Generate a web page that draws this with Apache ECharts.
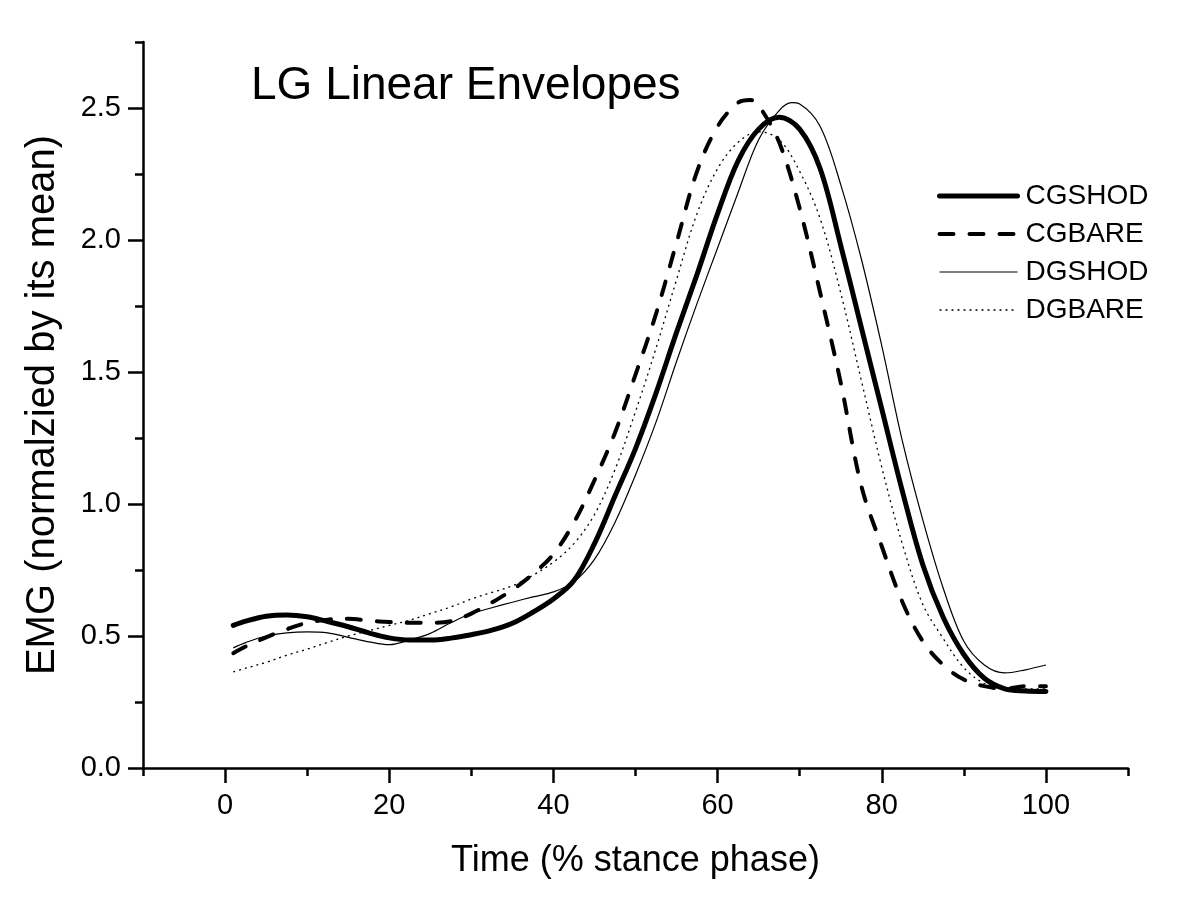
<!DOCTYPE html>
<html>
<head>
<meta charset="utf-8">
<script src="https://cdn.jsdelivr.net/npm/echarts@6/dist/echarts.min.js"></script>
<style>
html,body{margin:0;padding:0;background:#fff;}
#chart{width:1200px;height:921px;}
</style>
</head>
<body>
<div id="chart"></div>
<script>
// ---- data ----
const titleText = 'LG Linear Envelopes';
const xAxisTitle = 'Time (% stance phase)';
const yAxisTitle = 'EMG (normalzied by its mean)';
const seriesNames = ['CGSHOD', 'CGBARE', 'DGSHOD', 'DGBARE'];

const xMajorTicks = [0, 20, 40, 60, 80, 100];
const xMinorTicks = [-10, 10, 30, 50, 70, 90, 110];
const yMajorTicks = [0, 0.5, 1.0, 1.5, 2.0, 2.5];
const yMinorTicks = [0.25, 0.75, 1.25, 1.75, 2.25, 2.75];

const cgshod = [[1,0.54],[2.5,0.556],[5,0.575],[7.5,0.58],[10,0.573],[12.5,0.555],[15,0.535],[17.5,0.512],[20,0.493],[22.5,0.485],[25,0.485],[27.5,0.492],[30,0.505],[32.5,0.522],[35,0.548],[37.5,0.59],[40,0.64],[42.5,0.71],[45,0.85],[47.5,1.03],[50,1.21],[52.5,1.42],[55,1.65],[57.5,1.87],[60,2.10],[62.5,2.30],[65,2.42],[67.5,2.465],[70,2.42],[72.5,2.27],[75,1.98],[77.5,1.67],[80,1.36],[82.5,1.05],[85,0.77],[87.5,0.57],[90,0.43],[92.5,0.34],[95,0.30],[97.5,0.292],[100,0.29]];

const cgbare = [[1,0.435],[2.5,0.46],[5,0.495],[7.5,0.525],[10,0.55],[12.5,0.562],[15,0.565],[17.5,0.558],[20,0.553],[22.5,0.55],[25,0.55],[27.5,0.556],[30,0.585],[32.5,0.627],[35,0.675],[37.5,0.735],[40,0.81],[42.5,0.93],[45,1.09],[47.5,1.27],[50,1.49],[52.5,1.72],[55,1.99],[57.5,2.26],[60,2.43],[62.5,2.52],[64,2.53],[65,2.51],[67.5,2.37],[70,2.12],[72.5,1.80],[75,1.46],[77.5,1.07],[80,0.84],[82.5,0.63],[85,0.48],[87.5,0.39],[90,0.335],[92.5,0.31],[95,0.30],[97.5,0.31],[100,0.31]];

const dgshod = [[1,0.455],[2.5,0.475],[5,0.50],[7.5,0.512],[10,0.516],[12.5,0.512],[15,0.495],[17.5,0.478],[20,0.467],[22.5,0.485],[25,0.51],[27.5,0.55],[30,0.585],[32.5,0.607],[35,0.628],[37.5,0.648],[40,0.667],[42.5,0.705],[45,0.79],[47.5,0.93],[50,1.11],[52.5,1.31],[55,1.54],[57.5,1.76],[60,1.97],[62.5,2.18],[65,2.38],[67.5,2.49],[69,2.52],[70,2.515],[72.5,2.43],[75,2.21],[77.5,1.93],[80,1.60],[82.5,1.24],[85,0.94],[87.5,0.68],[90,0.48],[92.5,0.39],[95,0.36],[97.5,0.372],[100,0.39]];

const dgbare = [[1,0.364],[2.5,0.378],[5,0.40],[7.5,0.427],[10,0.45],[12.5,0.476],[15,0.50],[17.5,0.52],[20,0.54],[22.5,0.56],[25,0.585],[27.5,0.61],[30,0.64],[32.5,0.665],[35,0.69],[37.5,0.73],[40,0.78],[42.5,0.85],[45,0.96],[47.5,1.13],[50,1.35],[52.5,1.59],[55,1.85],[57.5,2.10],[60,2.27],[62.5,2.37],[65,2.41],[67.5,2.38],[70,2.26],[72.5,2.08],[75,1.80],[77.5,1.47],[80,1.14],[82.5,0.85],[85,0.62],[87.5,0.49],[90,0.38],[92.5,0.32],[95,0.30],[97.5,0.30],[100,0.30]];

// ---- chart ----
const FONT = 'Liberation Sans, Arial, sans-serif';
const chart = echarts.init(document.getElementById('chart'), null, {renderer: 'canvas'});

const axisLineStyle = {color: '#000', width: 2.5};
const styles = [
  {color: '#000', width: 5, type: 'solid', cap: 'round'},
  {color: '#000', width: 4, type: [14, 16], cap: 'round'},
  {color: '#000', width: 1.2, type: 'solid'},
  {color: '#000', width: 1.3, type: [2, 4]}
];
const seriesData = [cgshod, cgbare, dgshod, dgbare];

const option = {
  backgroundColor: '#fff',
  animation: false,
  title: {
    text: titleText,
    left: 251, top: 63, padding: 0,
    textStyle: {fontFamily: FONT, fontSize: 46, fontWeight: 'normal', color: '#000'}
  },
  legend: {
    orient: 'vertical',
    left: 937, top: 182,
    itemWidth: 78, itemHeight: 14, itemGap: 10,
    padding: 0,
    itemStyle: {opacity: 0, borderWidth: 0},
    textStyle: {fontFamily: FONT, fontSize: 28, color: '#000', padding: [0,0,0,3]},
    data: seriesNames.map((n, i) => ({
      name: n,
      itemStyle: {opacity: 0, borderWidth: 0},
      lineStyle: {color: '#000', width: styles[i].width, type: styles[i].type, cap: styles[i].cap || 'butt'}
    }))
  },
  grid: {left: 143, right: 72, top: 42, bottom: 153},
  xAxis: [{
    type: 'value', min: -10, max: 110,
    name: xAxisTitle, nameLocation: 'middle', nameGap: 75,
    nameTextStyle: {fontFamily: FONT, fontSize: 36, color: '#000'},
    axisLine: {show: true, onZero: false, lineStyle: axisLineStyle},
    axisTick: {show: true, inside: false, length: 15, lineStyle: axisLineStyle, customValues: xMajorTicks},
    axisLabel: {show: true, margin: 23, fontFamily: FONT, fontSize: 29, color: '#000', customValues: xMajorTicks},
    splitLine: {show: false}
  }, {
    type: 'value', min: -10, max: 110, position: 'bottom',
    axisLine: {show: false, onZero: false},
    axisTick: {show: true, inside: false, length: 8, lineStyle: axisLineStyle, customValues: xMinorTicks},
    axisLabel: {show: false},
    splitLine: {show: false}
  }],
  yAxis: [{
    type: 'value', min: 0, max: 2.75,
    name: yAxisTitle, nameLocation: 'middle', nameGap: 80, nameRotate: 90,
    nameTextStyle: {fontFamily: FONT, fontSize: 40, color: '#000'},
    axisLine: {show: true, onZero: false, lineStyle: axisLineStyle},
    axisTick: {show: true, inside: false, length: 15, lineStyle: axisLineStyle, customValues: yMajorTicks},
    axisLabel: {show: true, margin: 22, fontFamily: FONT, fontSize: 29, color: '#000',
      customValues: yMajorTicks, formatter: v => v.toFixed(1)},
    splitLine: {show: false}
  }, {
    type: 'value', min: 0, max: 2.75, position: 'left',
    axisLine: {show: false, onZero: false},
    axisTick: {show: true, inside: false, length: 8, lineStyle: axisLineStyle, customValues: yMinorTicks},
    axisLabel: {show: false},
    splitLine: {show: false}
  }],
  series: seriesNames.map((n, i) => ({
    name: n, type: 'line', data: seriesData[i], smooth: 0.35, symbol: 'none',
    itemStyle: {color: '#000'},
    lineStyle: styles[i], z: 4 - i
  }))
};
chart.setOption(option);
</script>
</body>
</html>
